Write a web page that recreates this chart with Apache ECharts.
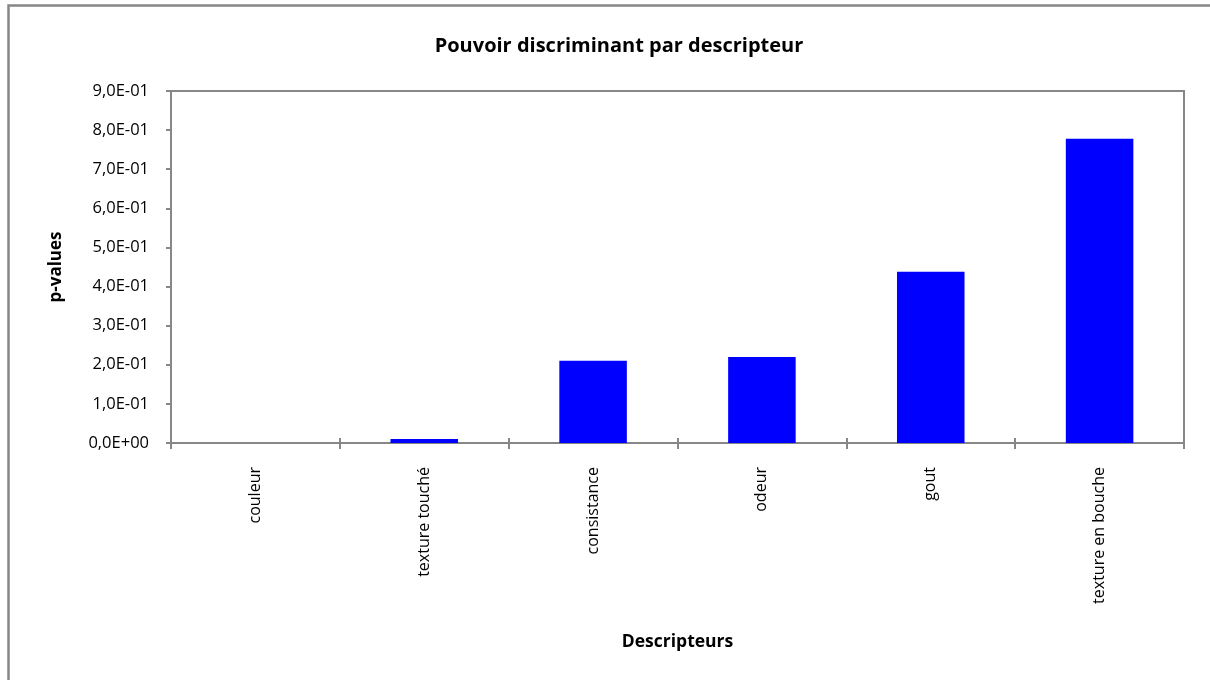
<!DOCTYPE html>
<html>
<head>
<meta charset="utf-8">
<script src="https://cdn.jsdelivr.net/npm/echarts@6/dist/echarts.min.js"></script>
<style>
  html, body { margin: 0; padding: 0; background: #fff; }
  #chart { width: 1210px; height: 680px; }
</style>
</head>
<body>
<div id="chart"></div>
<script>
// Descripteurs sensoriels et p-values associées
const categories = ['couleur', 'texture touché', 'consistance', 'odeur', 'gout', 'texture en bouche'];
const pValues = [0, 0.010, 0.210, 0.220, 0.438, 0.778];
const yMin = 0, yMax = 0.9, yStep = 0.1;

const FONT = 'Open Sans';
const GREY = '#878787';

// Format "9,0E-01" : mantisse à une décimale, virgule, exposant signé sur 2 chiffres
function sciFr(v) {
  const s = Number(v).toExponential(1);
  const parts = s.split('e');
  const exp = parseInt(parts[1], 10);
  const sign = exp < 0 ? '-' : '+';
  const e = String(Math.abs(exp)).padStart(2, '0');
  return parts[0].replace('.', ',') + 'E' + sign + e;
}

const chart = echarts.init(document.getElementById('chart'), null, { renderer: 'canvas' });

const gridTop = 91, gridBottom = 237;

chart.setOption({
  animation: false,
  backgroundColor: '#fff',
  title: {
    text: 'Pouvoir discriminant par descripteur',
    left: 614,
    top: 31,
    textAlign: 'center',
    textStyle: { fontFamily: FONT, fontSize: 20, fontWeight: 'bold', color: '#000' }
  },
  graphic: [{
    type: 'rect',
    shape: { x: 8.5, y: 5.5, width: 1220, height: 700 },
    style: { fill: 'none', stroke: GREY, lineWidth: 2.5 },
    silent: true,
    z: 100
  }],
  grid: {
    left: 171, right: 26, top: gridTop, bottom: gridBottom,
    show: true, borderColor: GREY, borderWidth: 2, backgroundColor: 'transparent'
  },
  xAxis: [{
    type: 'category',
    data: categories,
    name: 'Descripteurs',
    nameLocation: 'middle',
    nameGap: 190,
    nameTextStyle: { fontFamily: FONT, fontSize: 17.5, fontWeight: 'bold', color: '#000' },
    axisLine: { lineStyle: { color: GREY, width: 2 } },
    axisTick: { show: true, length: 6, lineStyle: { color: GREY, width: 2 } },
    axisLabel: { rotate: 90, margin: 24, fontFamily: FONT, fontSize: 16, color: '#000' },
    splitLine: { show: false }
  }, {
    // petits traits de graduation vers l'intérieur, sur l'axe des abscisses
    type: 'category',
    data: categories,
    position: 'top',
    offset: -(680 - gridTop - gridBottom),
    axisLine: { show: false },
    axisTick: { show: true, length: 5, lineStyle: { color: GREY, width: 2 } },
    axisLabel: { show: false },
    splitLine: { show: false }
  }],
  yAxis: {
    type: 'value',
    min: yMin, max: yMax, interval: yStep,
    name: 'p-values',
    nameLocation: 'middle',
    nameRotate: 90,
    nameGap: 106,
    nameTextStyle: { fontFamily: FONT, fontSize: 17, fontWeight: 'bold', color: '#000' },
    axisLine: { show: true, lineStyle: { color: GREY, width: 2 } },
    axisTick: { show: true, length: 5, lineStyle: { color: GREY, width: 2 } },
    axisLabel: { margin: 22, fontFamily: FONT, fontSize: 16.5, color: '#000', formatter: sciFr },
    splitLine: { show: false }
  },
  series: [{
    type: 'bar',
    xAxisIndex: 0,
    data: pValues,
    barWidth: '40%',
    itemStyle: { color: '#0000ff' }
  }]
});
</script>
</body>
</html>
